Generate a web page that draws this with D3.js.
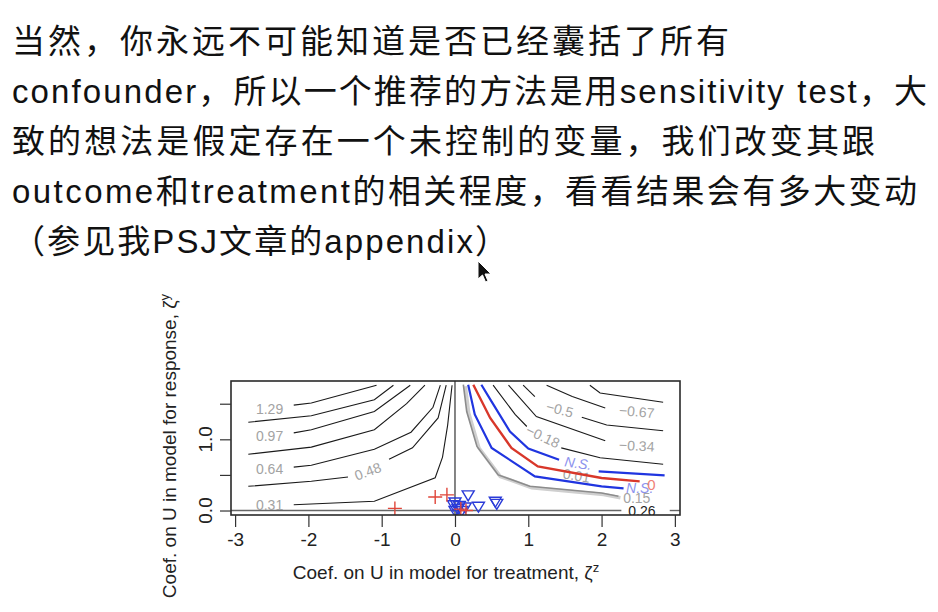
<!DOCTYPE html>
<html>
<head>
<meta charset="utf-8">
<script src="https://cdn.jsdelivr.net/npm/d3@7"></script>
<style>
  body { margin: 0; background: #fff; }
  svg { display: block; }
</style>
</head>
<body>
<svg id="chart" width="938" height="612"></svg>
<script>
// ---------- text above the chart ----------
const textLines = [
  "当然，你永远不可能知道是否已经囊括了所有",
  "confounder，所以一个推荐的方法是用sensitivity test，大",
  "致的想法是假定存在一个未控制的变量，我们改变其跟",
  "outcome和treatment的相关程度，看看结果会有多大变动",
  "（参见我PSJ文章的appendix）"
];

// ---------- axes ----------
const xTicks = [-3, -2, -1, 0, 1, 2, 3];
const yTicks = [0, 0.5, 1, 1.5];
const yTickLabels = [0, 1];

// ---------- contour lines (zeta_z, zeta_y) ----------
const c129 = [[-2.2, 1.48], [-1.96, 1.51], [-1.07, 1.76]];
const c113 = [[-2.82, 1.24], [-1.96, 1.33], [-1.1, 1.556], [-0.84, 1.76]];
const c097 = [[-2.2, 1.09], [-1.96, 1.135], [-1.1, 1.39], [-0.61, 1.76]];
const c081 = [[-2.82, 0.79], [-1.96, 0.89], [-1.1, 1.135], [-0.66, 1.5], [-0.41, 1.76]];
const c064 = [[-2.2, 0.61], [-1.96, 0.635], [-1.1, 0.86], [-0.6, 1.1], [-0.3, 1.45], [-0.2, 1.76]];
const c048a = [[-2.82, 0.34], [-1.96, 0.41], [-1.46, 0.47]];
const c048b = [[-0.9, 0.72], [-0.58, 0.88], [-0.23, 1.3], [-0.12, 1.76]];
const c031 = [[-2.2, 0.08], [-1.1, 0.13], [-0.27, 0.46], [-0.17, 0.75], [-0.1, 1.2], [-0.04, 1.76]];

const r018a = [[0.52, 1.76], [0.82, 1.35], [0.98, 1.18]];
const r018b = [[1.45, 0.88], [1.98, 0.74], [2.84, 0.65]];
const r034 = [[0.73, 1.76], [1.11, 1.32], [2.05, 0.98]];
const r050a = [[0.93, 1.76], [1.09, 1.6]];
const r050b = [[1.73, 1.31], [2.07, 1.2], [2.84, 1.12]];
const r067 = [[1.25, 1.76], [1.6, 1.6], [2.05, 1.44]];
const r083 = [[1.84, 1.76], [1.98, 1.65], [2.84, 1.52]];

const blackContours = [c129, c113, c097, c081, c064, c048a, c048b, c031,
                       r018a, r018b, r034, r050a, r050b, r067, r083];

const gray015 = [[0.114, 1.767], [0.16, 1.39], [0.3, 0.9], [0.59, 0.5], [1.02, 0.34], [2.0, 0.246], [2.23, 0.2]];
const blueLow = [[0.18, 1.767], [0.27, 1.35], [0.5, 0.878], [1.09, 0.48], [2.0, 0.34], [2.3, 0.31]];
const redZero = [[0.25, 1.767], [0.48, 1.3], [0.77, 0.88], [1.13, 0.62], [2.0, 0.456], [2.52, 0.41]];
const blueUpA = [[0.36, 1.767], [0.5, 1.53], [0.75, 1.11], [1.0, 0.87], [1.42, 0.714]];
const blueUpB = [[1.96, 0.55], [2.86, 0.494]];

// contour labels: [text, zeta_z, zeta_y, angle]
const grayLabels = [
  ["1.29", -2.53, 1.43, 0], ["0.97", -2.53, 1.04, 0], ["0.64", -2.53, 0.585, 0],
  ["0.31", -2.53, 0.08, 0], ["0.48", -1.19, 0.55, -20],
  ["−0.18", 1.2, 1.04, 25], ["−0.5", 1.43, 1.42, 15], ["−0.67", 2.48, 1.39, 5],
  ["−0.34", 2.48, 0.91, 3], ["0.01", 1.66, 0.49, 10], ["0.15", 2.48, 0.176, 0]
];
const blueLabels = [["N.S.", 1.68, 0.665, 8], ["N.S.", 2.52, 0.316, 0]];
const redLabels = [["0", 2.68, 0.36, 0]];
const estimateLabel = [["0.26", 2.55, 0.0, 0]];

// observed covariates
const redPlus = [[-0.82, 0.03], [-0.27, 0.19], [-0.11, 0.22], [0.08, 0.02], [0.15, 0.0]];
const blueTri = [[0.0, 0.12], [0.18, 0.22], [0.32, 0.06], [0.55, 0.13], [0.57, 0.1],
                 [-0.02, 0.08], [0.04, 0.03], [0.09, 0.0], [0.14, 0.05], [0.0, 0.0], [0.06, 0.07]];

// =========================================
const svg = d3.select("#chart");
const sans = "'Liberation Sans', Arial, Helvetica, sans-serif";

// headline
const lineEnds = [729, 927, 875, 917, 508];
svg.append("g")
  .selectAll("text")
  .data(textLines)
  .join("text")
  .attr("x", 12)
  .attr("y", (d, i) => 53 + i * 50)
  .attr("textLength", (d, i) => lineEnds[i] - 12)
  .attr("lengthAdjust", "spacing")
  .style("font-family", "'Liberation Sans', 'Noto Sans CJK SC', sans-serif")
  .style("font-size", "33px")
  .attr("fill", "#111")
  .text(d => d);

// mouse pointer
svg.append("path")
  .attr("transform", "translate(478,261)")
  .attr("d", "M0,0 L0,18 L4.5,14 L7.5,21 L10,20 L7,13 L13,13 Z")
  .attr("fill", "#111")
  .attr("stroke", "#fff")
  .attr("stroke-width", 1);

const x = d3.scaleLinear().domain([-3.056, 3.07]).range([231, 680]);
const y = d3.scaleLinear().domain([-0.063, 1.819]).range([515, 381]);
const line = d3.line().x(d => x(d[0])).y(d => y(d[1]));

svg.append("defs").append("clipPath").attr("id", "plotclip")
  .append("rect")
  .attr("x", x.range()[0]).attr("y", y.range()[1])
  .attr("width", x.range()[1] - x.range()[0])
  .attr("height", y.range()[0] - y.range()[1]);

const plot = svg.append("g").attr("clip-path", "url(#plotclip)");

// reference lines (estimate 0.26 contour along the axes)
plot.append("path")
  .attr("d", line([[0, y.domain()[0]], [0, y.domain()[1]]]))
  .attr("stroke", "#333").attr("stroke-width", 1.2).attr("fill", "none");
plot.append("path")
  .attr("d", line([[x.domain()[0], 0], [2.27, 0]]))
  .attr("stroke", "#666").attr("stroke-width", 1.4).attr("fill", "none");
plot.append("path")
  .attr("d", line([[2.93, 0], [x.domain()[1], 0]]))
  .attr("stroke", "#666").attr("stroke-width", 1.4).attr("fill", "none");

// black contours
plot.append("g")
  .selectAll("path")
  .data(blackContours)
  .join("path")
  .attr("d", line)
  .attr("fill", "none")
  .attr("stroke", "#1a1a1a")
  .attr("stroke-width", 1.1);

function drawLabels(data, color, size, style) {
  plot.append("g")
    .selectAll("text")
    .data(data)
    .join("text")
    .attr("transform", d => `translate(${x(d[1])},${y(d[2])}) rotate(${d[3]})`)
    .attr("text-anchor", "middle")
    .attr("dominant-baseline", "central")
    .style("font-family", sans)
    .style("font-size", size + "px")
    .style("font-style", style || "normal")
    .attr("fill", color)
    .text(d => d[0]);
}

drawLabels(grayLabels, "#a3a3a3", 14);

// 0.15 contour: gray with lighter shadow
plot.append("path")
  .attr("d", line(gray015))
  .attr("transform", "translate(2,1.5)")
  .attr("fill", "none").attr("stroke", "#cfcfcf").attr("stroke-width", 3.5);
plot.append("path")
  .attr("d", line(gray015))
  .attr("fill", "none").attr("stroke", "#8c8c8c").attr("stroke-width", 1.6);

// significance boundaries and zero line
plot.selectAll(".blue")
  .data([blueLow, blueUpA, blueUpB])
  .join("path")
  .attr("class", "blue")
  .attr("d", line)
  .attr("fill", "none")
  .attr("stroke", "#2035e0")
  .attr("stroke-width", 2.2);

plot.append("path")
  .attr("d", line(redZero))
  .attr("fill", "none")
  .attr("stroke", "#d8372a")
  .attr("stroke-width", 2.4);

drawLabels(blueLabels, "#8d93ee", 14, "italic");
drawLabels(redLabels, "#f07f77", 15);
drawLabels(estimateLabel, "#222", 14);

// points
plot.append("g")
  .selectAll("path")
  .data(blueTri)
  .join("path")
  .attr("transform", d => `translate(${x(d[0])},${y(d[1])})`)
  .attr("d", "M-6,-4 L6,-4 L0,6 Z")
  .attr("fill", "none")
  .attr("stroke", "#2a3bd8")
  .attr("stroke-width", 1.4);

plot.append("g")
  .selectAll("path")
  .data(redPlus)
  .join("path")
  .attr("transform", d => `translate(${x(d[0])},${y(d[1])})`)
  .attr("d", "M-7,0 L7,0 M0,-7 L0,7")
  .attr("stroke", "#e0463a")
  .attr("stroke-width", 1.4);

// box
svg.append("rect")
  .attr("x", x.range()[0]).attr("y", y.range()[1])
  .attr("width", x.range()[1] - x.range()[0])
  .attr("height", y.range()[0] - y.range()[1])
  .attr("fill", "none")
  .attr("stroke", "#2a2a2a")
  .attr("stroke-width", 1.6);

// x axis
const xAxis = svg.append("g")
  .attr("transform", `translate(0,${y.range()[0]})`)
  .call(d3.axisBottom(x).tickValues(xTicks).tickSize(12).tickPadding(6).tickFormat(d => String(d)));
xAxis.select(".domain").remove();
xAxis.selectAll("line").attr("stroke", "#333").attr("stroke-width", 1.2);
xAxis.selectAll("text")
  .style("font-family", sans).style("font-size", "19px").attr("fill", "#222");

// y axis
const yAxis = svg.append("g")
  .attr("transform", `translate(${x.range()[0]},0)`)
  .call(d3.axisLeft(y).tickValues(yTicks).tickSize(11).tickFormat(""));
yAxis.select(".domain").remove();
yAxis.selectAll("line").attr("stroke", "#333").attr("stroke-width", 1.2);

svg.append("g")
  .selectAll("text")
  .data(yTickLabels)
  .join("text")
  .attr("transform", d => `translate(212,${y(d)}) rotate(-90)`)
  .attr("text-anchor", "middle")
  .style("font-family", sans).style("font-size", "19px")
  .attr("fill", "#222")
  .text(d => d.toFixed(1));

// axis titles
const xTitle = svg.append("text")
  .attr("x", 446).attr("y", 579)
  .attr("text-anchor", "middle")
  .style("font-family", sans).style("font-size", "19px")
  .attr("fill", "#222");
xTitle.append("tspan").text("Coef. on U in model for treatment, ζ");
xTitle.append("tspan").attr("dy", "-0.55em").style("font-size", "13px").text("z");

const yTitle = svg.append("text")
  .attr("transform", "translate(176,446) rotate(-90)")
  .attr("text-anchor", "middle")
  .style("font-family", sans).style("font-size", "19px")
  .attr("fill", "#222");
yTitle.append("tspan").text("Coef. on U in model for response, ζ");
yTitle.append("tspan").attr("dy", "-0.55em").style("font-size", "13px").text("y");
</script>
</body>
</html>
